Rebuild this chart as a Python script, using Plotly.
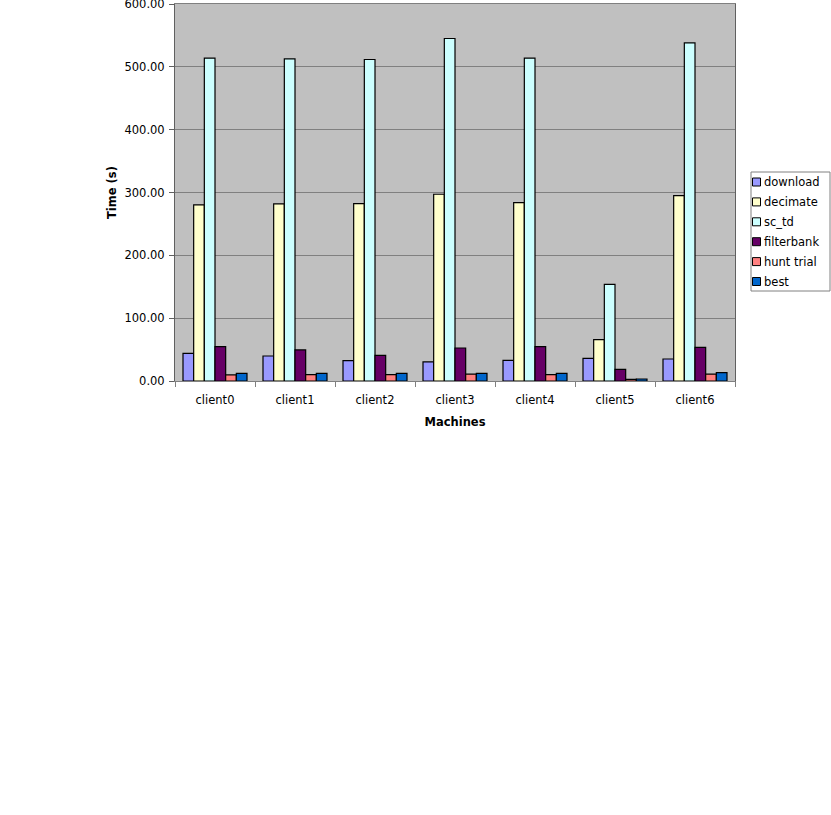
import plotly.graph_objects as go

machines = ["client0", "client1", "client2", "client3", "client4", "client5", "client6"]

download = [44.0, 39.8, 32.4, 30.3, 32.9, 36.1, 35.0]
decimate = [280.3, 281.8, 282.4, 297.2, 284.0, 65.8, 295.1]
sc_td = [513.8, 512.7, 511.7, 545.1, 513.8, 153.9, 538.2]
filterbank = [54.7, 49.4, 40.9, 52.5, 54.7, 18.6, 53.6]
hunt_trial = [9.6, 10.0, 10.0, 11.0, 10.0, 2.7, 11.0]
best = [12.2, 12.2, 12.2, 12.2, 12.2, 3.2, 13.3]

series = [
    ("download", download, "#9999FF"),
    ("decimate", decimate, "#FFFFCC"),
    ("sc_td", sc_td, "#CCFFFF"),
    ("filterbank", filterbank, "#660066"),
    ("hunt trial", hunt_trial, "#FF8080"),
    ("best", best, "#0066CC"),
]

FONT = "Verdana, DejaVu Sans, sans-serif"
W, H = 831, 815
ML, MR, MT, MB = 175, 96, 4, 434

fig = go.Figure()
for name, vals, color in series:
    fig.add_trace(go.Bar(
        x=machines, y=vals, name=name, showlegend=False,
        marker=dict(color=color, line=dict(color="black", width=1.2)),
    ))

fig.update_layout(
    width=W, height=H,
    barmode="group", bargap=0.2, bargroupgap=0,
    paper_bgcolor="white", plot_bgcolor="#C0C0C0",
    font=dict(family=FONT, size=11.5, color="black"),
    margin=dict(l=ML, r=MR, t=MT, b=MB, autoexpand=False),
)

fig.update_xaxes(
    title=dict(text="<b>Machines</b>", standoff=12, font=dict(size=11.5)),
    showline=True, linecolor="#808080", mirror=True,
    ticks="outside", tickson="boundaries", ticklen=5, tickcolor="#808080",
    ticklabelstandoff=8, showgrid=False,
)
fig.update_yaxes(
    title=dict(text="<b>Time (s)</b>", standoff=5, font=dict(size=11.5)),
    range=[0, 600], dtick=100, tickformat=".2f",
    showline=True, linecolor="#606060", mirror=True,
    ticks="outside", ticklen=5, tickcolor="#606060", ticklabelstandoff=2,
    ticklabeloverflow="allow",
    gridcolor="#808080", gridwidth=1, zeroline=False,
)


# legend drawn by hand (Excel style: small square, text close to it)
# paper coords are relative to the plot area, so convert from page pixels
def px_x(p):
    return (p - ML) / (W - ML - MR)


def px_y(p):
    return 1 - (p - MT) / (H - MT - MB)


box_l, box_r, box_t, box_b = 751, 830, 172, 291
fig.add_shape(type="rect", xref="paper", yref="paper",
              x0=px_x(box_l), x1=px_x(box_r), y0=px_y(box_b), y1=px_y(box_t),
              line=dict(color="#808080", width=1), fillcolor="white")
row0, pitch = 182, 19.9
for i, (name, _, color) in enumerate(series):
    cy = row0 + i * pitch
    fig.add_shape(type="rect", xref="paper", yref="paper",
                  x0=px_x(752.5), x1=px_x(760.5), y0=px_y(cy + 4), y1=px_y(cy - 4),
                  line=dict(color="black", width=1), fillcolor=color)
    fig.add_annotation(xref="paper", yref="paper", x=px_x(762), y=px_y(cy),
                       xanchor="left", yanchor="middle", showarrow=False,
                       text=name, font=dict(family=FONT, size=11.5))

fig.write_html("out.html", config={"displayModeBar": False},
               post_script="document.body.style.margin='0px';")
